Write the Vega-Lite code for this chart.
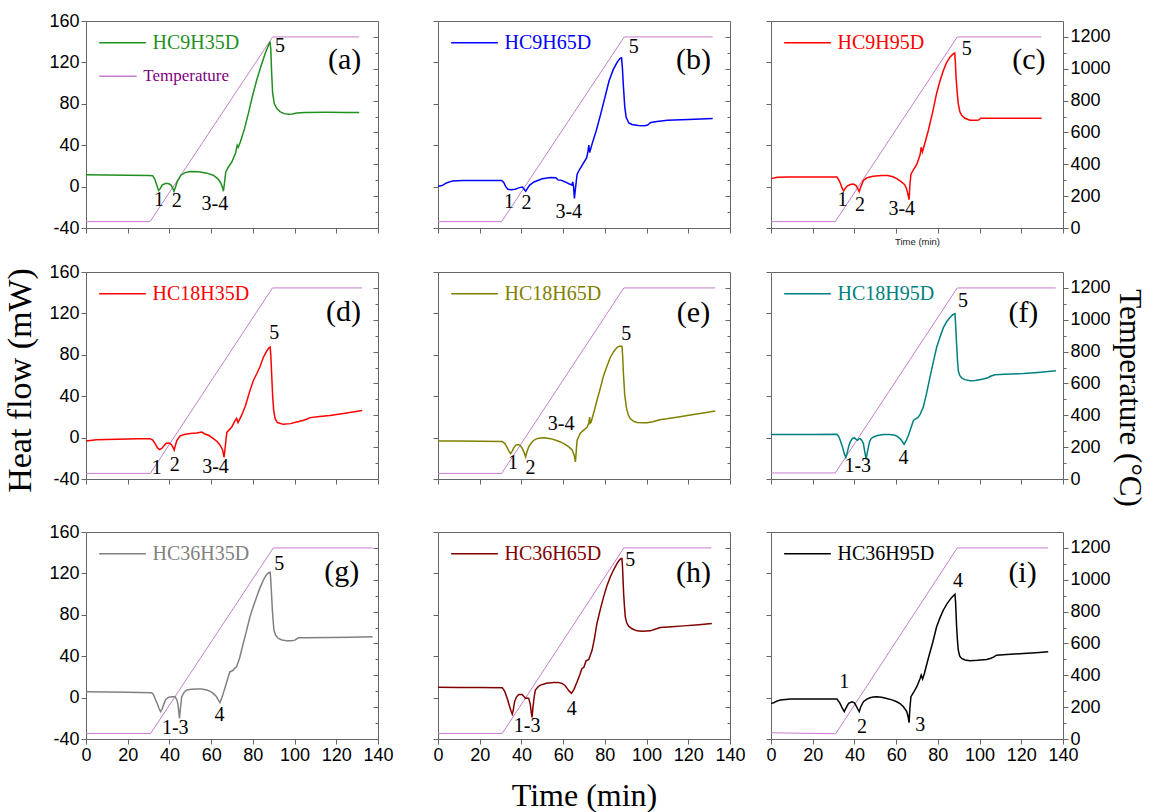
{
  "$schema": "https://vega.github.io/schema/vega-lite/v6.json",
  "padding": {"left": 3, "top": 11, "right": 0, "bottom": 0},
  "config": {
    "view": {"stroke": "#666666", "strokeWidth": 1},
    "axis": {"domain": false, "grid": false, "tickColor": "#666666", "tickWidth": 1, "labelFont": "Liberation Sans", "labelFontSize": 18, "labelColor": "#000000", "labelPadding": 2, "labelFlush": false, "labelOverlap": false, "titleFont": "Liberation Serif", "titleFontWeight": "normal", "titleColor": "#000000"},
    "text": {"font": "Liberation Serif", "color": "#000000"}
  },
  "datasets": {
    "temp": [
      {"p":"a","t":0,"c":40},{"p":"a","t":30.7,"c":40},{"p":"a","t":89.5,"c":1200},{"p":"a","t":131,"c":1200},
      {"p":"b","t":0,"c":40},{"p":"b","t":30.5,"c":40},{"p":"b","t":89.3,"c":1200},{"p":"b","t":131.7,"c":1200},
      {"p":"c","t":0,"c":40},{"p":"c","t":30.8,"c":40},{"p":"c","t":89.3,"c":1200},{"p":"c","t":129.7,"c":1200},
      {"p":"d","t":0,"c":35},{"p":"d","t":30.8,"c":35},{"p":"d","t":89.4,"c":1200},{"p":"d","t":132.4,"c":1200},
      {"p":"e","t":0,"c":35},{"p":"e","t":30.5,"c":35},{"p":"e","t":89.1,"c":1200},{"p":"e","t":132.9,"c":1200},
      {"p":"f","t":0,"c":38},{"p":"f","t":30.8,"c":38},{"p":"f","t":89.3,"c":1200},{"p":"f","t":136.5,"c":1200},
      {"p":"g","t":0,"c":35},{"p":"g","t":31,"c":35},{"p":"g","t":89.8,"c":1200},{"p":"g","t":137.5,"c":1200},
      {"p":"h","t":0,"c":35},{"p":"h","t":30.8,"c":35},{"p":"h","t":89.1,"c":1200},{"p":"h","t":131.1,"c":1200},
      {"p":"i","t":0,"c":39},{"p":"i","t":31,"c":33},{"p":"i","t":89.3,"c":1200},{"p":"i","t":132.8,"c":1200}
    ],
    "leg": [
      {"p":"a","k":"s","t1":6.3,"t2":28.7,"h":139},{"p":"a","k":"T","t1":6.3,"t2":24.3,"h":106.5},
      {"p":"b","k":"s","t1":6.3,"t2":28.7,"h":139},
      {"p":"c","k":"s","t1":6.3,"t2":28.7,"h":139},
      {"p":"d","k":"s","t1":6.3,"t2":28.7,"h":139},
      {"p":"e","k":"s","t1":6.3,"t2":28.7,"h":139},
      {"p":"f","k":"s","t1":6.3,"t2":28.7,"h":139},
      {"p":"g","k":"s","t1":6.3,"t2":28.7,"h":139},
      {"p":"h","k":"s","t1":6.3,"t2":28.7,"h":139},
      {"p":"i","k":"s","t1":6.3,"t2":28.7,"h":139}
    ],
    "lab": [
      {"p":"a","k":"leg","t":31.9,"h":139,"s":"HC9H35D"},{"p":"a","k":"tleg","t":27.5,"h":106.5,"s":"Temperature"},
      {"p":"a","k":"n","t":35,"h":-13.2,"s":"1"},{"p":"a","k":"n","t":43.5,"h":-14,"s":"2"},{"p":"a","k":"n","t":61.8,"h":-16.5,"s":"3-4"},{"p":"a","k":"n","t":93,"h":135.5,"s":"5"},{"p":"a","k":"tag","t":124,"h":122,"s":"(a)"},
      {"p":"b","k":"leg","t":31.9,"h":139,"s":"HC9H65D"},
      {"p":"b","k":"n","t":34,"h":-15,"s":"1"},{"p":"b","k":"n","t":42.4,"h":-16,"s":"2"},{"p":"b","k":"n","t":62.7,"h":-24.5,"s":"3-4"},{"p":"b","k":"n","t":93.8,"h":135,"s":"5"},{"p":"b","k":"tag","t":122.5,"h":122,"s":"(b)"},
      {"p":"c","k":"leg","t":31.9,"h":139,"s":"HC9H95D"},
      {"p":"c","k":"n","t":34.3,"h":-13,"s":"1"},{"p":"c","k":"n","t":42.7,"h":-18,"s":"2"},{"p":"c","k":"n","t":62.7,"h":-21.5,"s":"3-4"},{"p":"c","k":"n","t":93.8,"h":133,"s":"5"},{"p":"c","k":"tag","t":123.6,"h":122,"s":"(c)"},
      {"p":"d","k":"leg","t":31.9,"h":139,"s":"HC18H35D"},
      {"p":"d","k":"n","t":33.9,"h":-29,"s":"1"},{"p":"d","k":"n","t":42.6,"h":-26.6,"s":"2"},{"p":"d","k":"n","t":62.1,"h":-28.2,"s":"3-4"},{"p":"d","k":"n","t":90.3,"h":101.4,"s":"5"},{"p":"d","k":"tag","t":123.4,"h":121,"s":"(d)"},
      {"p":"e","k":"leg","t":31.9,"h":139,"s":"HC18H65D"},
      {"p":"e","k":"n","t":36,"h":-25,"s":"1"},{"p":"e","k":"n","t":44.3,"h":-29.8,"s":"2"},{"p":"e","k":"n","t":59,"h":13.4,"s":"3-4"},{"p":"e","k":"n","t":90.3,"h":100,"s":"5"},{"p":"e","k":"tag","t":122.5,"h":120,"s":"(e)"},
      {"p":"f","k":"leg","t":31.9,"h":139,"s":"HC18H95D"},
      {"p":"f","k":"n","t":41.6,"h":-27.5,"s":"1-3"},{"p":"f","k":"n","t":63.5,"h":-20,"s":"4"},{"p":"f","k":"n","t":92,"h":132,"s":"5"},{"p":"f","k":"tag","t":121,"h":120.6,"s":"(f)"},
      {"p":"g","k":"leg","t":31.9,"h":139,"s":"HC36H35D"},
      {"p":"g","k":"n","t":42.8,"h":-29.7,"s":"1-3"},{"p":"g","k":"n","t":64,"h":-16.8,"s":"4"},{"p":"g","k":"n","t":92.6,"h":129.5,"s":"5"},{"p":"g","k":"tag","t":122.6,"h":121,"s":"(g)"},
      {"p":"h","k":"leg","t":31.9,"h":139,"s":"HC36H65D"},
      {"p":"h","k":"n","t":42.7,"h":-27,"s":"1-3"},{"p":"h","k":"n","t":64.1,"h":-11.4,"s":"4"},{"p":"h","k":"n","t":92.2,"h":132.7,"s":"5"},{"p":"h","k":"tag","t":122.5,"h":120.5,"s":"(h)"},
      {"p":"i","k":"leg","t":31.9,"h":139,"s":"HC36H95D"},
      {"p":"i","k":"n","t":35.1,"h":15.3,"s":"1"},{"p":"i","k":"n","t":43.6,"h":-28.1,"s":"2"},{"p":"i","k":"n","t":71.6,"h":-26.5,"s":"3"},{"p":"i","k":"n","t":89.6,"h":112.5,"s":"4"},{"p":"i","k":"tag","t":120.6,"h":120,"s":"(i)"}
    ],
    "hfA": [{"t":0,"h":11.5},{"t":10,"h":11.3},{"t":20,"h":11},{"t":30,"h":10.8},{"t":32,"h":10.5},{"t":33,"h":7},{"t":34,"h":1},{"t":34.8,"h":-3.8},{"t":35.6,"h":-2},{"t":36.5,"h":1.5},{"t":38,"h":3},{"t":39.5,"h":3},{"t":40.8,"h":1.5},{"t":41.6,"h":-1.5},{"t":42.2,"h":-4.5},{"t":42.8,"h":-1},{"t":43.8,"h":5},{"t":45.5,"h":11},{"t":47.5,"h":13.5},{"t":50,"h":14.5},{"t":54,"h":14.3},{"t":58,"h":13},{"t":61,"h":11},{"t":63,"h":8},{"t":64.5,"h":4},{"t":65.5,"h":-1},{"t":65.9,"h":-4.5},{"t":66.3,"h":2},{"t":67,"h":14},{"t":68,"h":18},{"t":70,"h":24},{"t":71.8,"h":33},{"t":72.5,"h":40},{"t":73,"h":38},{"t":74,"h":43},{"t":76,"h":56},{"t":78,"h":72},{"t":80,"h":89},{"t":82,"h":104},{"t":84,"h":117},{"t":86,"h":129},{"t":87.5,"h":136.5},{"t":88.2,"h":140},{"t":88.6,"h":133},{"t":89,"h":110},{"t":89.5,"h":90},{"t":90.3,"h":80},{"t":91.5,"h":75.5},{"t":93,"h":72.5},{"t":95,"h":70.5},{"t":97,"h":69.8},{"t":99,"h":70.2},{"t":101,"h":71.2},{"t":105,"h":71.6},{"t":115,"h":71.8},{"t":125,"h":71.7},{"t":131,"h":71.6}],
    "hfB": [{"t":0,"h":0.3},{"t":2,"h":1},{"t":4,"h":3.5},{"t":7,"h":5.5},{"t":12,"h":6},{"t":20,"h":6},{"t":30.5,"h":6},{"t":31.5,"h":4},{"t":32.5,"h":0},{"t":33.5,"h":-2.5},{"t":35,"h":-3},{"t":37,"h":-2.5},{"t":39,"h":-1},{"t":40.5,"h":-0.5},{"t":41.5,"h":-3},{"t":42.1,"h":-4.5},{"t":42.8,"h":-2},{"t":44,"h":1.5},{"t":46,"h":4.5},{"t":50,"h":7.5},{"t":54,"h":8.8},{"t":56.5,"h":8.5},{"t":57.5,"h":6.5},{"t":59,"h":6.2},{"t":61,"h":4.5},{"t":63,"h":2.5},{"t":64.2,"h":1.5},{"t":64.6,"h":4.5},{"t":65,"h":0},{"t":65.4,"h":-11.5},{"t":65.9,"h":-2},{"t":66.7,"h":12},{"t":68,"h":17},{"t":69.5,"h":22},{"t":71.3,"h":28},{"t":71.9,"h":34},{"t":72.3,"h":40},{"t":72.7,"h":33},{"t":74,"h":42},{"t":76,"h":55},{"t":78,"h":70},{"t":80,"h":86},{"t":82,"h":102},{"t":84,"h":113},{"t":86,"h":120.5},{"t":87.3,"h":124},{"t":88,"h":124.5},{"t":88.4,"h":115},{"t":88.9,"h":97},{"t":89.5,"h":78},{"t":90.2,"h":67},{"t":91.5,"h":61.5},{"t":93,"h":60},{"t":96,"h":59},{"t":99,"h":58.8},{"t":100.5,"h":59.5},{"t":102,"h":62},{"t":105,"h":63},{"t":110,"h":64},{"t":120,"h":64.8},{"t":131.7,"h":65.7}],
    "hfC": [{"t":0,"h":7.7},{"t":3,"h":9},{"t":8,"h":9.3},{"t":20,"h":9.3},{"t":31.6,"h":9.3},{"t":32.5,"h":6.5},{"t":33.3,"h":3},{"t":34,"h":-1},{"t":34.8,"h":-4.2},{"t":35.5,"h":-2},{"t":36.5,"h":0.5},{"t":38,"h":2},{"t":39.6,"h":2.5},{"t":40.8,"h":1},{"t":41.6,"h":-2},{"t":42.3,"h":-5},{"t":43,"h":-0.5},{"t":44.3,"h":6},{"t":46,"h":8.5},{"t":49,"h":10},{"t":53,"h":10.8},{"t":56,"h":10.8},{"t":58.5,"h":9.5},{"t":60.5,"h":7.5},{"t":62.5,"h":4.5},{"t":64,"h":2},{"t":65,"h":-2},{"t":65.7,"h":-8},{"t":66.2,"h":-12.6},{"t":66.6,"h":2},{"t":67.1,"h":12},{"t":68.5,"h":17},{"t":70,"h":22},{"t":71.5,"h":31},{"t":72,"h":38},{"t":72.6,"h":33.5},{"t":73.5,"h":40},{"t":75.4,"h":54},{"t":77.5,"h":72},{"t":79.4,"h":90},{"t":81,"h":102},{"t":82.6,"h":112},{"t":84,"h":119},{"t":85.8,"h":125},{"t":87.2,"h":128},{"t":88.1,"h":129},{"t":88.4,"h":120},{"t":88.7,"h":106},{"t":89.3,"h":90},{"t":89.8,"h":80},{"t":90.6,"h":72},{"t":91.4,"h":69},{"t":93,"h":66},{"t":95.4,"h":64.2},{"t":98,"h":64},{"t":99.6,"h":64.3},{"t":100.5,"h":66},{"t":105,"h":66},{"t":115,"h":66},{"t":129.7,"h":66}],
    "hfD": [{"t":0,"h":-3.2},{"t":5,"h":-2},{"t":15,"h":-1.5},{"t":25,"h":-1.2},{"t":30.7,"h":-1},{"t":32,"h":-2.5},{"t":33.2,"h":-6},{"t":34.3,"h":-10},{"t":35.3,"h":-11.5},{"t":36.3,"h":-10.5},{"t":37.3,"h":-8},{"t":38.5,"h":-5.5},{"t":39.8,"h":-5.2},{"t":40.8,"h":-6.5},{"t":41.6,"h":-9},{"t":42.3,"h":-12},{"t":42.8,"h":-8},{"t":43.5,"h":-3.2},{"t":45,"h":1.5},{"t":47,"h":3},{"t":50,"h":4},{"t":53,"h":4.5},{"t":55.5,"h":5.4},{"t":57,"h":3.5},{"t":59,"h":2},{"t":61.1,"h":-1},{"t":63,"h":-4},{"t":64.3,"h":-7.4},{"t":65.5,"h":-12},{"t":66.2,"h":-19},{"t":66.6,"h":-12},{"t":67.5,"h":5},{"t":69.8,"h":10},{"t":71.5,"h":16.6},{"t":72.2,"h":18.5},{"t":72.9,"h":14.5},{"t":74.6,"h":21.4},{"t":76.5,"h":31},{"t":78.6,"h":45.4},{"t":80.2,"h":55},{"t":81.8,"h":61.4},{"t":83.5,"h":69},{"t":85,"h":77.4},{"t":86.5,"h":83},{"t":87.6,"h":86.5},{"t":88.3,"h":87.5},{"t":88.6,"h":80},{"t":89,"h":62},{"t":89.5,"h":40},{"t":90,"h":26},{"t":90.7,"h":18},{"t":91.8,"h":14.5},{"t":94.6,"h":12.8},{"t":98,"h":13.5},{"t":101,"h":15},{"t":104,"h":16.5},{"t":106,"h":18},{"t":107.5,"h":19.3},{"t":112,"h":20.3},{"t":117,"h":21.4},{"t":125,"h":23.8},{"t":132.4,"h":26.2}],
    "hfE": [{"t":0,"h":-3.2},{"t":10,"h":-3.4},{"t":20,"h":-3.6},{"t":30.8,"h":-3.8},{"t":32,"h":-5.5},{"t":33,"h":-9},{"t":34,"h":-13},{"t":34.8,"h":-15.4},{"t":35.6,"h":-13},{"t":36.4,"h":-9.6},{"t":37.5,"h":-7},{"t":38.3,"h":-6.7},{"t":39.3,"h":-7.5},{"t":40.3,"h":-10},{"t":41.2,"h":-14},{"t":42,"h":-18.6},{"t":42.6,"h":-14},{"t":43.5,"h":-9},{"t":44.8,"h":-5},{"t":45.9,"h":-2.6},{"t":47.5,"h":-1},{"t":49.1,"h":-0.3},{"t":51,"h":-0.2},{"t":53.9,"h":-1},{"t":56.5,"h":-2.5},{"t":58.7,"h":-4.2},{"t":61,"h":-6.5},{"t":62.7,"h":-9},{"t":64.3,"h":-12},{"t":65.3,"h":-17},{"t":65.9,"h":-23.4},{"t":66.4,"h":-10},{"t":66.7,"h":-2.6},{"t":68.3,"h":4.5},{"t":70,"h":7.5},{"t":71.5,"h":10},{"t":72.3,"h":14},{"t":72.7,"h":19.8},{"t":73,"h":14},{"t":73.4,"h":15},{"t":74.8,"h":25},{"t":76.2,"h":35.8},{"t":78,"h":49},{"t":79.4,"h":60},{"t":81,"h":69},{"t":82.6,"h":77.4},{"t":84.2,"h":83},{"t":85.8,"h":87},{"t":87,"h":88.3},{"t":88.2,"h":88.3},{"t":88.5,"h":80},{"t":88.9,"h":62},{"t":89.5,"h":42},{"t":90.3,"h":29.4},{"t":91.2,"h":22},{"t":92.2,"h":18.2},{"t":94,"h":15.5},{"t":95.4,"h":14.7},{"t":98,"h":14.3},{"t":100.2,"h":14.4},{"t":103,"h":15.3},{"t":105,"h":16.6},{"t":107,"h":17.5},{"t":109.7,"h":18.2},{"t":116,"h":20.2},{"t":122.5,"h":22.4},{"t":128,"h":24},{"t":132.9,"h":25.6}],
    "hfF": [{"t":0,"h":2.9},{"t":10,"h":3},{"t":20,"h":3.1},{"t":31.6,"h":3.2},{"t":32.5,"h":1},{"t":33.2,"h":-2.6},{"t":34.3,"h":-9},{"t":35.2,"h":-16},{"t":35.9,"h":-19.2},{"t":36.6,"h":-14},{"t":37.3,"h":-8},{"t":38,"h":-4.2},{"t":39,"h":-1},{"t":39.9,"h":0},{"t":40.7,"h":-1.5},{"t":41.5,"h":-2.6},{"t":42.2,"h":-1.2},{"t":42.7,"h":-1},{"t":43.5,"h":-2.5},{"t":44.3,"h":-5.8},{"t":45,"h":-14},{"t":45.6,"h":-21},{"t":46.2,"h":-14},{"t":47.2,"h":-4.2},{"t":48,"h":-1},{"t":49.1,"h":0.6},{"t":51,"h":2},{"t":53.9,"h":2.9},{"t":57,"h":3},{"t":59.5,"h":2.2},{"t":61,"h":0.5},{"t":61.9,"h":-1},{"t":63,"h":-4},{"t":63.8,"h":-6.4},{"t":64.8,"h":-3},{"t":65.9,"h":2.2},{"t":67.2,"h":10},{"t":68.3,"h":16.6},{"t":69.4,"h":18.2},{"t":70.5,"h":19.5},{"t":71.5,"h":22.4},{"t":73,"h":29.4},{"t":74.5,"h":42},{"t":76.2,"h":58.2},{"t":77.8,"h":73},{"t":79.4,"h":87},{"t":81,"h":97},{"t":82.6,"h":106},{"t":84.2,"h":112},{"t":85.8,"h":116},{"t":87,"h":118.5},{"t":88.2,"h":119.7},{"t":88.5,"h":110},{"t":89,"h":90},{"t":89.4,"h":75},{"t":89.8,"h":64.6},{"t":90.5,"h":60},{"t":91.4,"h":57.6},{"t":93,"h":56},{"t":95.4,"h":55},{"t":98,"h":55.2},{"t":101.8,"h":56.6},{"t":104,"h":57.8},{"t":105.5,"h":59.5},{"t":107.4,"h":60.8},{"t":112,"h":61.2},{"t":121,"h":62},{"t":128,"h":63},{"t":136.6,"h":64.6}],
    "hfG": [{"t":0,"h":5.7},{"t":10,"h":5.4},{"t":20,"h":5.1},{"t":31.5,"h":4.7},{"t":32.3,"h":3},{"t":33.1,"h":-0.8},{"t":34.2,"h":-6},{"t":35.1,"h":-11},{"t":35.8,"h":-13.6},{"t":36.5,"h":-11},{"t":37.4,"h":-5.6},{"t":38.3,"h":-1.5},{"t":39.5,"h":0.2},{"t":41,"h":0.9},{"t":42.7,"h":0.9},{"t":43.5,"h":-2},{"t":44,"h":-5.6},{"t":44.5,"h":-14},{"t":44.8,"h":-20},{"t":45.2,"h":-12},{"t":45.9,"h":0.9},{"t":47,"h":5},{"t":48.3,"h":7.3},{"t":50.5,"h":8},{"t":53.1,"h":8.3},{"t":55.5,"h":8.3},{"t":57.9,"h":7.3},{"t":60,"h":5.5},{"t":61,"h":4.1},{"t":62.5,"h":1},{"t":63.5,"h":-2.5},{"t":64.2,"h":-4.9},{"t":65,"h":-1},{"t":65.8,"h":4.1},{"t":67,"h":12},{"t":68.2,"h":20.1},{"t":69,"h":25},{"t":69.8,"h":25.5},{"t":70.6,"h":26.6},{"t":71.4,"h":28.5},{"t":72.2,"h":29.8},{"t":73.6,"h":38},{"t":75.4,"h":52.3},{"t":77,"h":65},{"t":78.6,"h":78},{"t":80.2,"h":88},{"t":81.8,"h":97.3},{"t":83.4,"h":106},{"t":85,"h":113.4},{"t":86.3,"h":118},{"t":87.4,"h":120.4},{"t":88.3,"h":121},{"t":88.6,"h":113},{"t":89,"h":98},{"t":89.4,"h":83},{"t":90.1,"h":65},{"t":91,"h":60},{"t":92.2,"h":57.1},{"t":94,"h":55.6},{"t":96.2,"h":54.9},{"t":98.5,"h":55},{"t":100.2,"h":55.5},{"t":101.8,"h":57.8},{"t":105,"h":57.9},{"t":117,"h":58.1},{"t":127,"h":58.4},{"t":137.4,"h":58.7}],
    "hfH": [{"t":0,"h":9.9},{"t":10,"h":9.8},{"t":20,"h":9.7},{"t":30.8,"h":9.6},{"t":32,"h":6},{"t":33.2,"h":-0.8},{"t":34.4,"h":-9},{"t":35.1,"h":-13.5},{"t":35.6,"h":-15.9},{"t":36.1,"h":-12},{"t":36.7,"h":-4},{"t":37.6,"h":0.5},{"t":38.7,"h":3.1},{"t":40.3,"h":3.1},{"t":41.2,"h":1.2},{"t":41.9,"h":-0.8},{"t":42.7,"h":-0.5},{"t":43.5,"h":-0.8},{"t":44.2,"h":-6},{"t":44.7,"h":-14},{"t":45.1,"h":-19.1},{"t":45.6,"h":-8},{"t":46.2,"h":2},{"t":46.7,"h":7.3},{"t":48,"h":10.5},{"t":49.1,"h":12.1},{"t":52,"h":13.8},{"t":55.5,"h":14.7},{"t":57.5,"h":14.7},{"t":59.5,"h":13.7},{"t":61,"h":11.5},{"t":61.9,"h":8.9},{"t":63,"h":6},{"t":64,"h":4.1},{"t":65.2,"h":8},{"t":66.7,"h":15.3},{"t":68,"h":22},{"t":69,"h":28.2},{"t":69.9,"h":29.1},{"t":71,"h":35.6},{"t":72.3,"h":36.9},{"t":73.9,"h":45.9},{"t":75,"h":57},{"t":76.2,"h":71.6},{"t":77.8,"h":85},{"t":79.4,"h":97.3},{"t":81,"h":108},{"t":82.6,"h":116.6},{"t":84.2,"h":123.5},{"t":85.8,"h":129.5},{"t":86.8,"h":132.5},{"t":87.7,"h":134.3},{"t":88.2,"h":134.3},{"t":88.5,"h":125},{"t":89,"h":100.5},{"t":89.4,"h":88},{"t":89.8,"h":78},{"t":90.5,"h":72},{"t":91.4,"h":69},{"t":93,"h":66.5},{"t":95.4,"h":64.5},{"t":98,"h":64},{"t":101.8,"h":64.5},{"t":104,"h":66},{"t":106.6,"h":67.7},{"t":112,"h":68.5},{"t":117.7,"h":69.3},{"t":125,"h":70.4},{"t":131.3,"h":71.6}],
    "hfI": [{"t":0,"h":-5.6},{"t":1.3,"h":-4.9},{"t":3,"h":-3.2},{"t":4.5,"h":-2.4},{"t":7,"h":-1.8},{"t":9.3,"h":-1.4},{"t":20,"h":-1.4},{"t":31.6,"h":-1.4},{"t":32.9,"h":-4.9},{"t":34,"h":-9.5},{"t":35.1,"h":-13.6},{"t":36,"h":-10},{"t":37.2,"h":-5.6},{"t":38.8,"h":-4},{"t":40,"h":-5},{"t":40.7,"h":-7.5},{"t":41.6,"h":-11},{"t":42.3,"h":-13.6},{"t":43,"h":-9},{"t":44.3,"h":-4},{"t":46,"h":-1.5},{"t":47.5,"h":-0.1},{"t":49,"h":0.6},{"t":50.7,"h":0.9},{"t":53,"h":0.3},{"t":55.5,"h":-0.8},{"t":58,"h":-2.2},{"t":60.3,"h":-4},{"t":62,"h":-6},{"t":63.5,"h":-8.8},{"t":65.1,"h":-13.6},{"t":65.8,"h":-19},{"t":66.2,"h":-24.2},{"t":66.6,"h":-10},{"t":67.1,"h":0.9},{"t":68.5,"h":5.5},{"t":69.9,"h":10.5},{"t":71.5,"h":18.5},{"t":72,"h":21.7},{"t":72.7,"h":18},{"t":73.5,"h":23},{"t":75.4,"h":37.8},{"t":77.5,"h":53},{"t":79.4,"h":68.4},{"t":81,"h":77},{"t":82.6,"h":84.4},{"t":84.2,"h":90},{"t":85.8,"h":94.7},{"t":87,"h":97.5},{"t":88.2,"h":99.9},{"t":88.5,"h":92},{"t":89,"h":68.4},{"t":89.4,"h":55},{"t":89.8,"h":45.9},{"t":90.5,"h":40},{"t":91.4,"h":37.8},{"t":93,"h":36.3},{"t":95.4,"h":35.6},{"t":99,"h":36},{"t":103.4,"h":36.9},{"t":105.5,"h":38},{"t":106.9,"h":39.4},{"t":108.1,"h":41},{"t":113,"h":41.6},{"t":121,"h":42.6},{"t":127,"h":43.3},{"t":132.9,"h":44.2}]
  },
  "columns": 3,
  "align": "each",
  "spacing": {"row": 15, "column": 19},
  "concat": [
    {
      "width": 292, "height": 207,
      "layer": [
        {"data": {"name": "temp"}, "transform": [{"filter": "datum.p == 'a'"}],
         "mark": {"type": "line", "color": "#c77dcf", "strokeWidth": 1},
         "encoding": {
           "x": {"field": "t", "type": "quantitative", "scale": {"domain": [0, 140], "nice": false, "zero": false}, "axis": {"orient": "bottom", "values": [0,10,20,30,40,50,60,70,80,90,100,110,120,130,140], "labels": false, "title": null, "tickSize": {"condition": {"test": "datum.value % 20 != 0", "value": 3}, "value": 5}}},
           "y": {"field": "c", "type": "quantitative", "scale": {"domain": [0, 1300], "nice": false, "zero": false}, "axis": {"orient": "right", "values": [0,100,200,300,400,500,600,700,800,900,1000,1100,1200], "labels": false, "title": null, "tickSize": {"condition": {"test": "datum.value % 200 != 0", "value": -3}, "value": -5}}}
         }},
        {"layer": [
          {"data": {"name": "hfA"}, "mark": {"type": "line", "color": "#1f8f1f", "strokeWidth": 1.5},
           "encoding": {"x": {"field": "t", "type": "quantitative"}, "y": {"field": "h", "type": "quantitative", "scale": {"domain": [-40, 160], "nice": false, "zero": false}, "axis": {"orient": "left", "values": [-40,-20,0,20,40,60,80,100,120,140,160], "labelExpr": "datum.value % 40 == 0 ? '' + datum.value : ''", "title": null, "tickSize": {"condition": {"test": "datum.value % 40 != 0", "value": 3}, "value": 5}}}}},
          {"data": {"name": "leg"}, "transform": [{"filter": "datum.p == 'a'"}], "mark": {"type": "rule", "strokeWidth": 1.5},
           "encoding": {"x": {"field": "t1", "type": "quantitative"}, "x2": {"field": "t2"}, "y": {"field": "h", "type": "quantitative"}, "color": {"condition": {"test": "datum.k == 'T'", "value": "#c77dcf"}, "value": "#1f8f1f"}}},
          {"data": {"name": "lab"}, "transform": [{"filter": "datum.p == 'a' && (datum.k == 'leg' || datum.k == 'tleg')"}], "mark": {"type": "text", "align": "left", "baseline": "middle"},
           "encoding": {"x": {"field": "t", "type": "quantitative"}, "y": {"field": "h", "type": "quantitative"}, "text": {"field": "s"}, "size": {"condition": {"test": "datum.k == 'tleg'", "value": 17}, "value": 20}, "color": {"condition": {"test": "datum.k == 'tleg'", "value": "#800080"}, "value": "#1f8f1f"}}},
          {"data": {"name": "lab"}, "transform": [{"filter": "datum.p == 'a' && (datum.k == 'n' || datum.k == 'tag')"}], "mark": {"type": "text", "align": "center", "baseline": "middle", "color": "#000000"},
           "encoding": {"x": {"field": "t", "type": "quantitative"}, "y": {"field": "h", "type": "quantitative"}, "text": {"field": "s"}, "size": {"condition": {"test": "datum.k == 'tag'", "value": 30}, "value": 20}}}
        ]}
      ],
      "resolve": {"scale": {"y": "independent"}}
    },
    {
      "width": 292, "height": 207,
      "layer": [
        {"data": {"name": "temp"}, "transform": [{"filter": "datum.p == 'b'"}],
         "mark": {"type": "line", "color": "#c77dcf", "strokeWidth": 1},
         "encoding": {
           "x": {"field": "t", "type": "quantitative", "scale": {"domain": [0, 140], "nice": false, "zero": false}, "axis": {"orient": "bottom", "values": [0,10,20,30,40,50,60,70,80,90,100,110,120,130,140], "labels": false, "title": null, "tickSize": {"condition": {"test": "datum.value % 20 != 0", "value": 3}, "value": 5}}},
           "y": {"field": "c", "type": "quantitative", "scale": {"domain": [0, 1300], "nice": false, "zero": false}, "axis": {"orient": "right", "values": [0,100,200,300,400,500,600,700,800,900,1000,1100,1200], "labels": false, "title": null, "tickSize": {"condition": {"test": "datum.value % 200 != 0", "value": -3}, "value": -5}}}
         }},
        {"layer": [
          {"data": {"name": "hfB"}, "mark": {"type": "line", "color": "#0000ff", "strokeWidth": 1.5},
           "encoding": {"x": {"field": "t", "type": "quantitative"}, "y": {"field": "h", "type": "quantitative", "scale": {"domain": [-40, 160], "nice": false, "zero": false}, "axis": {"orient": "left", "values": [-40,-20,0,20,40,60,80,100,120,140,160], "labelExpr": "datum.value == 40 ? '0' : ''", "labelOpacity": 0, "labelPadding": 9, "title": null, "tickSize": {"condition": {"test": "datum.value % 40 != 0", "value": 3}, "value": 5}}}}},
          {"data": {"name": "leg"}, "transform": [{"filter": "datum.p == 'b'"}], "mark": {"type": "rule", "strokeWidth": 1.5, "color": "#0000ff"},
           "encoding": {"x": {"field": "t1", "type": "quantitative"}, "x2": {"field": "t2"}, "y": {"field": "h", "type": "quantitative"}}},
          {"data": {"name": "lab"}, "transform": [{"filter": "datum.p == 'b' && datum.k == 'leg'"}], "mark": {"type": "text", "align": "left", "baseline": "middle", "fontSize": 20, "color": "#0000ff"},
           "encoding": {"x": {"field": "t", "type": "quantitative"}, "y": {"field": "h", "type": "quantitative"}, "text": {"field": "s"}}},
          {"data": {"name": "lab"}, "transform": [{"filter": "datum.p == 'b' && (datum.k == 'n' || datum.k == 'tag')"}], "mark": {"type": "text", "align": "center", "baseline": "middle", "color": "#000000"},
           "encoding": {"x": {"field": "t", "type": "quantitative"}, "y": {"field": "h", "type": "quantitative"}, "text": {"field": "s"}, "size": {"condition": {"test": "datum.k == 'tag'", "value": 30}, "value": 20}}}
        ]}
      ],
      "resolve": {"scale": {"y": "independent"}}
    },
    {
      "width": 292, "height": 207,
      "layer": [
        {"data": {"name": "temp"}, "transform": [{"filter": "datum.p == 'c'"}],
         "mark": {"type": "line", "color": "#c77dcf", "strokeWidth": 1},
         "encoding": {
           "x": {"field": "t", "type": "quantitative", "scale": {"domain": [0, 140], "nice": false, "zero": false}, "axis": {"orient": "bottom", "values": [0,10,20,30,40,50,60,70,80,90,100,110,120,130,140], "labels": false, "title": "Time (min)", "titleFont": "Liberation Sans", "titleFontSize": 9.5, "titlePadding": 3, "titleColor": "#222222", "tickSize": {"condition": {"test": "datum.value % 20 != 0", "value": 3}, "value": 5}}},
           "y": {"field": "c", "type": "quantitative", "scale": {"domain": [0, 1300], "nice": false, "zero": false}, "axis": {"orient": "right", "values": [0,100,200,300,400,500,600,700,800,900,1000,1100,1200], "labelExpr": "datum.value % 200 == 0 ? '' + datum.value : ''", "title": null, "tickSize": {"condition": {"test": "datum.value % 200 != 0", "value": 3}, "value": 5}}}
         }},
        {"layer": [
          {"data": {"name": "hfC"}, "mark": {"type": "line", "color": "#ff0000", "strokeWidth": 1.5},
           "encoding": {"x": {"field": "t", "type": "quantitative"}, "y": {"field": "h", "type": "quantitative", "scale": {"domain": [-40, 160], "nice": false, "zero": false}, "axis": {"orient": "left", "values": [-40,-20,0,20,40,60,80,100,120,140,160], "labels": false, "title": null, "tickSize": {"condition": {"test": "datum.value % 40 != 0", "value": 3}, "value": 5}}}}},
          {"data": {"name": "leg"}, "transform": [{"filter": "datum.p == 'c'"}], "mark": {"type": "rule", "strokeWidth": 1.5, "color": "#ff0000"},
           "encoding": {"x": {"field": "t1", "type": "quantitative"}, "x2": {"field": "t2"}, "y": {"field": "h", "type": "quantitative"}}},
          {"data": {"name": "lab"}, "transform": [{"filter": "datum.p == 'c' && datum.k == 'leg'"}], "mark": {"type": "text", "align": "left", "baseline": "middle", "fontSize": 20, "color": "#ff0000"},
           "encoding": {"x": {"field": "t", "type": "quantitative"}, "y": {"field": "h", "type": "quantitative"}, "text": {"field": "s"}}},
          {"data": {"name": "lab"}, "transform": [{"filter": "datum.p == 'c' && (datum.k == 'n' || datum.k == 'tag')"}], "mark": {"type": "text", "align": "center", "baseline": "middle", "color": "#000000"},
           "encoding": {"x": {"field": "t", "type": "quantitative"}, "y": {"field": "h", "type": "quantitative"}, "text": {"field": "s"}, "size": {"condition": {"test": "datum.k == 'tag'", "value": 30}, "value": 20}}}
        ]}
      ],
      "resolve": {"scale": {"y": "independent"}}
    },
    {
      "width": 292, "height": 207,
      "layer": [
        {"data": {"name": "temp"}, "transform": [{"filter": "datum.p == 'd'"}],
         "mark": {"type": "line", "color": "#c77dcf", "strokeWidth": 1},
         "encoding": {
           "x": {"field": "t", "type": "quantitative", "scale": {"domain": [0, 140], "nice": false, "zero": false}, "axis": {"orient": "bottom", "values": [0,10,20,30,40,50,60,70,80,90,100,110,120,130,140], "labels": false, "title": null, "tickSize": {"condition": {"test": "datum.value % 20 != 0", "value": 3}, "value": 5}}},
           "y": {"field": "c", "type": "quantitative", "scale": {"domain": [0, 1300], "nice": false, "zero": false}, "axis": {"orient": "right", "values": [0,100,200,300,400,500,600,700,800,900,1000,1100,1200], "labels": false, "title": null, "tickSize": {"condition": {"test": "datum.value % 200 != 0", "value": -3}, "value": -5}}}
         }},
        {"layer": [
          {"data": {"name": "hfD"}, "mark": {"type": "line", "color": "#ff0000", "strokeWidth": 1.5},
           "encoding": {"x": {"field": "t", "type": "quantitative"}, "y": {"field": "h", "type": "quantitative", "scale": {"domain": [-40, 160], "nice": false, "zero": false}, "axis": {"orient": "left", "values": [-40,-20,0,20,40,60,80,100,120,140,160], "labelExpr": "datum.value % 40 == 0 ? '' + datum.value : ''", "title": "Heat flow (mW)", "titleFontSize": 34, "titlePadding": 11, "titleY": 108, "tickSize": {"condition": {"test": "datum.value % 40 != 0", "value": 3}, "value": 5}}}}},
          {"data": {"name": "leg"}, "transform": [{"filter": "datum.p == 'd'"}], "mark": {"type": "rule", "strokeWidth": 1.5, "color": "#ff0000"},
           "encoding": {"x": {"field": "t1", "type": "quantitative"}, "x2": {"field": "t2"}, "y": {"field": "h", "type": "quantitative"}}},
          {"data": {"name": "lab"}, "transform": [{"filter": "datum.p == 'd' && datum.k == 'leg'"}], "mark": {"type": "text", "align": "left", "baseline": "middle", "fontSize": 20, "color": "#ff0000"},
           "encoding": {"x": {"field": "t", "type": "quantitative"}, "y": {"field": "h", "type": "quantitative"}, "text": {"field": "s"}}},
          {"data": {"name": "lab"}, "transform": [{"filter": "datum.p == 'd' && (datum.k == 'n' || datum.k == 'tag')"}], "mark": {"type": "text", "align": "center", "baseline": "middle", "color": "#000000"},
           "encoding": {"x": {"field": "t", "type": "quantitative"}, "y": {"field": "h", "type": "quantitative"}, "text": {"field": "s"}, "size": {"condition": {"test": "datum.k == 'tag'", "value": 30}, "value": 20}}}
        ]}
      ],
      "resolve": {"scale": {"y": "independent"}}
    },
    {
      "width": 292, "height": 207,
      "layer": [
        {"data": {"name": "temp"}, "transform": [{"filter": "datum.p == 'e'"}],
         "mark": {"type": "line", "color": "#c77dcf", "strokeWidth": 1},
         "encoding": {
           "x": {"field": "t", "type": "quantitative", "scale": {"domain": [0, 140], "nice": false, "zero": false}, "axis": {"orient": "bottom", "values": [0,10,20,30,40,50,60,70,80,90,100,110,120,130,140], "labels": false, "title": null, "tickSize": {"condition": {"test": "datum.value % 20 != 0", "value": 3}, "value": 5}}},
           "y": {"field": "c", "type": "quantitative", "scale": {"domain": [0, 1300], "nice": false, "zero": false}, "axis": {"orient": "right", "values": [0,100,200,300,400,500,600,700,800,900,1000,1100,1200], "labels": false, "title": null, "tickSize": {"condition": {"test": "datum.value % 200 != 0", "value": -3}, "value": -5}}}
         }},
        {"layer": [
          {"data": {"name": "hfE"}, "mark": {"type": "line", "color": "#808000", "strokeWidth": 1.5},
           "encoding": {"x": {"field": "t", "type": "quantitative"}, "y": {"field": "h", "type": "quantitative", "scale": {"domain": [-40, 160], "nice": false, "zero": false}, "axis": {"orient": "left", "values": [-40,-20,0,20,40,60,80,100,120,140,160], "labelExpr": "datum.value == 40 ? '0' : ''", "labelOpacity": 0, "labelPadding": 9, "title": null, "tickSize": {"condition": {"test": "datum.value % 40 != 0", "value": 3}, "value": 5}}}}},
          {"data": {"name": "leg"}, "transform": [{"filter": "datum.p == 'e'"}], "mark": {"type": "rule", "strokeWidth": 1.5, "color": "#808000"},
           "encoding": {"x": {"field": "t1", "type": "quantitative"}, "x2": {"field": "t2"}, "y": {"field": "h", "type": "quantitative"}}},
          {"data": {"name": "lab"}, "transform": [{"filter": "datum.p == 'e' && datum.k == 'leg'"}], "mark": {"type": "text", "align": "left", "baseline": "middle", "fontSize": 20, "color": "#808000"},
           "encoding": {"x": {"field": "t", "type": "quantitative"}, "y": {"field": "h", "type": "quantitative"}, "text": {"field": "s"}}},
          {"data": {"name": "lab"}, "transform": [{"filter": "datum.p == 'e' && (datum.k == 'n' || datum.k == 'tag')"}], "mark": {"type": "text", "align": "center", "baseline": "middle", "color": "#000000"},
           "encoding": {"x": {"field": "t", "type": "quantitative"}, "y": {"field": "h", "type": "quantitative"}, "text": {"field": "s"}, "size": {"condition": {"test": "datum.k == 'tag'", "value": 30}, "value": 20}}}
        ]}
      ],
      "resolve": {"scale": {"y": "independent"}}
    },
    {
      "width": 292, "height": 207,
      "layer": [
        {"data": {"name": "temp"}, "transform": [{"filter": "datum.p == 'f'"}],
         "mark": {"type": "line", "color": "#c77dcf", "strokeWidth": 1},
         "encoding": {
           "x": {"field": "t", "type": "quantitative", "scale": {"domain": [0, 140], "nice": false, "zero": false}, "axis": {"orient": "bottom", "values": [0,10,20,30,40,50,60,70,80,90,100,110,120,130,140], "labels": false, "title": null, "tickSize": {"condition": {"test": "datum.value % 20 != 0", "value": 3}, "value": 5}}},
           "y": {"field": "c", "type": "quantitative", "scale": {"domain": [0, 1300], "nice": false, "zero": false}, "axis": {"orient": "right", "values": [0,100,200,300,400,500,600,700,800,900,1000,1100,1200], "labelExpr": "datum.value % 200 == 0 ? '' + datum.value : ''", "title": "Temperature (°C)", "titleFontSize": 31, "titlePadding": 2, "titleY": 125.5, "tickSize": {"condition": {"test": "datum.value % 200 != 0", "value": 3}, "value": 5}}}
         }},
        {"layer": [
          {"data": {"name": "hfF"}, "mark": {"type": "line", "color": "#008080", "strokeWidth": 1.5},
           "encoding": {"x": {"field": "t", "type": "quantitative"}, "y": {"field": "h", "type": "quantitative", "scale": {"domain": [-40, 160], "nice": false, "zero": false}, "axis": {"orient": "left", "values": [-40,-20,0,20,40,60,80,100,120,140,160], "labels": false, "title": null, "tickSize": {"condition": {"test": "datum.value % 40 != 0", "value": 3}, "value": 5}}}}},
          {"data": {"name": "leg"}, "transform": [{"filter": "datum.p == 'f'"}], "mark": {"type": "rule", "strokeWidth": 1.5, "color": "#008080"},
           "encoding": {"x": {"field": "t1", "type": "quantitative"}, "x2": {"field": "t2"}, "y": {"field": "h", "type": "quantitative"}}},
          {"data": {"name": "lab"}, "transform": [{"filter": "datum.p == 'f' && datum.k == 'leg'"}], "mark": {"type": "text", "align": "left", "baseline": "middle", "fontSize": 20, "color": "#008080"},
           "encoding": {"x": {"field": "t", "type": "quantitative"}, "y": {"field": "h", "type": "quantitative"}, "text": {"field": "s"}}},
          {"data": {"name": "lab"}, "transform": [{"filter": "datum.p == 'f' && (datum.k == 'n' || datum.k == 'tag')"}], "mark": {"type": "text", "align": "center", "baseline": "middle", "color": "#000000"},
           "encoding": {"x": {"field": "t", "type": "quantitative"}, "y": {"field": "h", "type": "quantitative"}, "text": {"field": "s"}, "size": {"condition": {"test": "datum.k == 'tag'", "value": 30}, "value": 20}}}
        ]}
      ],
      "resolve": {"scale": {"y": "independent"}}
    },
    {
      "width": 292, "height": 207,
      "layer": [
        {"data": {"name": "temp"}, "transform": [{"filter": "datum.p == 'g'"}],
         "mark": {"type": "line", "color": "#c77dcf", "strokeWidth": 1},
         "encoding": {
           "x": {"field": "t", "type": "quantitative", "scale": {"domain": [0, 140], "nice": false, "zero": false}, "axis": {"orient": "bottom", "values": [0,10,20,30,40,50,60,70,80,90,100,110,120,130,140], "labelExpr": "datum.value % 20 == 0 ? '' + datum.value : ''", "title": null, "tickSize": {"condition": {"test": "datum.value % 20 != 0", "value": 3}, "value": 5}}},
           "y": {"field": "c", "type": "quantitative", "scale": {"domain": [0, 1300], "nice": false, "zero": false}, "axis": {"orient": "right", "values": [0,100,200,300,400,500,600,700,800,900,1000,1100,1200], "labels": false, "title": null, "tickSize": {"condition": {"test": "datum.value % 200 != 0", "value": -3}, "value": -5}}}
         }},
        {"layer": [
          {"data": {"name": "hfG"}, "mark": {"type": "line", "color": "#808080", "strokeWidth": 1.5},
           "encoding": {"x": {"field": "t", "type": "quantitative"}, "y": {"field": "h", "type": "quantitative", "scale": {"domain": [-40, 160], "nice": false, "zero": false}, "axis": {"orient": "left", "values": [-40,-20,0,20,40,60,80,100,120,140,160], "labelExpr": "datum.value % 40 == 0 ? '' + datum.value : ''", "title": null, "tickSize": {"condition": {"test": "datum.value % 40 != 0", "value": 3}, "value": 5}}}}},
          {"data": {"name": "leg"}, "transform": [{"filter": "datum.p == 'g'"}], "mark": {"type": "rule", "strokeWidth": 1.5, "color": "#808080"},
           "encoding": {"x": {"field": "t1", "type": "quantitative"}, "x2": {"field": "t2"}, "y": {"field": "h", "type": "quantitative"}}},
          {"data": {"name": "lab"}, "transform": [{"filter": "datum.p == 'g' && datum.k == 'leg'"}], "mark": {"type": "text", "align": "left", "baseline": "middle", "fontSize": 20, "color": "#808080"},
           "encoding": {"x": {"field": "t", "type": "quantitative"}, "y": {"field": "h", "type": "quantitative"}, "text": {"field": "s"}}},
          {"data": {"name": "lab"}, "transform": [{"filter": "datum.p == 'g' && (datum.k == 'n' || datum.k == 'tag')"}], "mark": {"type": "text", "align": "center", "baseline": "middle", "color": "#000000"},
           "encoding": {"x": {"field": "t", "type": "quantitative"}, "y": {"field": "h", "type": "quantitative"}, "text": {"field": "s"}, "size": {"condition": {"test": "datum.k == 'tag'", "value": 30}, "value": 20}}}
        ]}
      ],
      "resolve": {"scale": {"y": "independent"}}
    },
    {
      "width": 292, "height": 207,
      "layer": [
        {"data": {"name": "temp"}, "transform": [{"filter": "datum.p == 'h'"}],
         "mark": {"type": "line", "color": "#c77dcf", "strokeWidth": 1},
         "encoding": {
           "x": {"field": "t", "type": "quantitative", "scale": {"domain": [0, 140], "nice": false, "zero": false}, "axis": {"orient": "bottom", "values": [0,10,20,30,40,50,60,70,80,90,100,110,120,130,140], "labelExpr": "datum.value % 20 == 0 ? '' + datum.value : ''", "title": "Time (min)", "titleFontSize": 32, "titlePadding": 16, "tickSize": {"condition": {"test": "datum.value % 20 != 0", "value": 3}, "value": 5}}},
           "y": {"field": "c", "type": "quantitative", "scale": {"domain": [0, 1300], "nice": false, "zero": false}, "axis": {"orient": "right", "values": [0,100,200,300,400,500,600,700,800,900,1000,1100,1200], "labels": false, "title": null, "tickSize": {"condition": {"test": "datum.value % 200 != 0", "value": -3}, "value": -5}}}
         }},
        {"layer": [
          {"data": {"name": "hfH"}, "mark": {"type": "line", "color": "#800000", "strokeWidth": 1.5},
           "encoding": {"x": {"field": "t", "type": "quantitative"}, "y": {"field": "h", "type": "quantitative", "scale": {"domain": [-40, 160], "nice": false, "zero": false}, "axis": {"orient": "left", "values": [-40,-20,0,20,40,60,80,100,120,140,160], "labelExpr": "datum.value == 40 ? '0' : ''", "labelOpacity": 0, "labelPadding": 9, "title": null, "tickSize": {"condition": {"test": "datum.value % 40 != 0", "value": 3}, "value": 5}}}}},
          {"data": {"name": "leg"}, "transform": [{"filter": "datum.p == 'h'"}], "mark": {"type": "rule", "strokeWidth": 1.5, "color": "#800000"},
           "encoding": {"x": {"field": "t1", "type": "quantitative"}, "x2": {"field": "t2"}, "y": {"field": "h", "type": "quantitative"}}},
          {"data": {"name": "lab"}, "transform": [{"filter": "datum.p == 'h' && datum.k == 'leg'"}], "mark": {"type": "text", "align": "left", "baseline": "middle", "fontSize": 20, "color": "#800000"},
           "encoding": {"x": {"field": "t", "type": "quantitative"}, "y": {"field": "h", "type": "quantitative"}, "text": {"field": "s"}}},
          {"data": {"name": "lab"}, "transform": [{"filter": "datum.p == 'h' && (datum.k == 'n' || datum.k == 'tag')"}], "mark": {"type": "text", "align": "center", "baseline": "middle", "color": "#000000"},
           "encoding": {"x": {"field": "t", "type": "quantitative"}, "y": {"field": "h", "type": "quantitative"}, "text": {"field": "s"}, "size": {"condition": {"test": "datum.k == 'tag'", "value": 30}, "value": 20}}}
        ]}
      ],
      "resolve": {"scale": {"y": "independent"}}
    },
    {
      "width": 292, "height": 207,
      "layer": [
        {"data": {"name": "temp"}, "transform": [{"filter": "datum.p == 'i'"}],
         "mark": {"type": "line", "color": "#c77dcf", "strokeWidth": 1},
         "encoding": {
           "x": {"field": "t", "type": "quantitative", "scale": {"domain": [0, 140], "nice": false, "zero": false}, "axis": {"orient": "bottom", "values": [0,10,20,30,40,50,60,70,80,90,100,110,120,130,140], "labelExpr": "datum.value % 20 == 0 ? '' + datum.value : ''", "title": null, "tickSize": {"condition": {"test": "datum.value % 20 != 0", "value": 3}, "value": 5}}},
           "y": {"field": "c", "type": "quantitative", "scale": {"domain": [0, 1300], "nice": false, "zero": false}, "axis": {"orient": "right", "values": [0,100,200,300,400,500,600,700,800,900,1000,1100,1200], "labelExpr": "datum.value % 200 == 0 ? '' + datum.value : ''", "title": null, "tickSize": {"condition": {"test": "datum.value % 200 != 0", "value": 3}, "value": 5}}}
         }},
        {"layer": [
          {"data": {"name": "hfI"}, "mark": {"type": "line", "color": "#000000", "strokeWidth": 1.5},
           "encoding": {"x": {"field": "t", "type": "quantitative"}, "y": {"field": "h", "type": "quantitative", "scale": {"domain": [-40, 160], "nice": false, "zero": false}, "axis": {"orient": "left", "values": [-40,-20,0,20,40,60,80,100,120,140,160], "labels": false, "title": null, "tickSize": {"condition": {"test": "datum.value % 40 != 0", "value": 3}, "value": 5}}}}},
          {"data": {"name": "leg"}, "transform": [{"filter": "datum.p == 'i'"}], "mark": {"type": "rule", "strokeWidth": 1.5, "color": "#000000"},
           "encoding": {"x": {"field": "t1", "type": "quantitative"}, "x2": {"field": "t2"}, "y": {"field": "h", "type": "quantitative"}}},
          {"data": {"name": "lab"}, "transform": [{"filter": "datum.p == 'i' && datum.k == 'leg'"}], "mark": {"type": "text", "align": "left", "baseline": "middle", "fontSize": 20, "color": "#000000"},
           "encoding": {"x": {"field": "t", "type": "quantitative"}, "y": {"field": "h", "type": "quantitative"}, "text": {"field": "s"}}},
          {"data": {"name": "lab"}, "transform": [{"filter": "datum.p == 'i' && (datum.k == 'n' || datum.k == 'tag')"}], "mark": {"type": "text", "align": "center", "baseline": "middle", "color": "#000000"},
           "encoding": {"x": {"field": "t", "type": "quantitative"}, "y": {"field": "h", "type": "quantitative"}, "text": {"field": "s"}, "size": {"condition": {"test": "datum.k == 'tag'", "value": 30}, "value": 20}}}
        ]}
      ],
      "resolve": {"scale": {"y": "independent"}}
    }
  ]
}
